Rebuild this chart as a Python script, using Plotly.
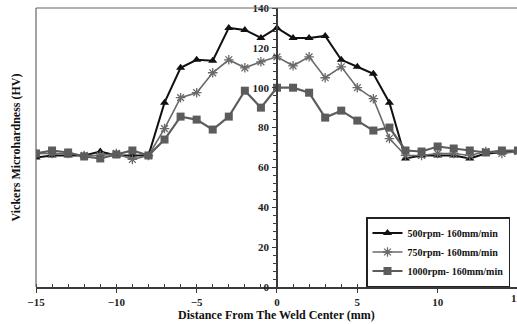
import plotly.graph_objects as go

distance = list(range(-15, 16))
hv_500 = [65, 66, 66, 66, 68, 66, 66, 66, 92.5, 110, 114, 113.5, 130, 129, 125, 130,
          125, 125, 126, 114, 110.5, 107, 92.5, 64.5, 66, 66, 66, 64.5, 67, 67.5, 68]
hv_750 = [67, 67, 67, 66, 66, 67, 64, 66, 79.5, 95, 97.5, 107.5, 114, 110, 113, 115.5,
          111, 115.5, 105, 110.5, 100, 94.5, 74.5, 66, 66, 67, 67, 66, 68, 67, 68]
hv_1000 = [67, 68.5, 67.5, 65.5, 64.5, 66.5, 68.5, 66, 74, 85.5, 84, 79, 85.5, 98.5, 90, 100,
           100, 97.5, 85, 88.5, 83.5, 78.5, 80, 68.5, 68, 70.5, 69.5, 68.5, 67.5, 68.5, 68.5]
names = ["500rpm- 160mm/min", "750rpm- 160mm/min", "1000rpm- 160mm/min"]
x_ticks = [-15, -10, -5, 0, 5, 10, 15]
y_ticks = [0, 20, 40, 60, 80, 100, 120, 140]

XR = [-15, 14.94]
YR = [0, 140]
FONT = "Liberation Serif"
AX = "#3a3a3a"

fig = go.Figure()
fig.add_trace(go.Scatter(x=distance, y=hv_500, name=names[0], mode="lines+markers",
                         line=dict(color="#111111", width=2),
                         marker=dict(symbol="triangle-up", size=8, color="#111111")))
fig.add_trace(go.Scatter(x=distance, y=hv_750, name=names[1], mode="lines+markers",
                         line=dict(color="#6a6a6a", width=1.6),
                         marker=dict(symbol="asterisk-open", size=8,
                                     line=dict(color="#9a9a9a", width=1.3))))
fig.add_trace(go.Scatter(x=distance, y=hv_1000, name=names[2], mode="lines+markers",
                         line=dict(color="#5c5c5c", width=2.2),
                         marker=dict(symbol="square", size=8, color="#5c5c5c")))

ypos = (0 - XR[0]) / (XR[1] - XR[0])
tickfont = dict(family=FONT, size=11, color="#222222", weight="bold")

fig.update_layout(
    width=517, height=324,
    margin=dict(l=36, r=0, t=8, b=37, autoexpand=False),
    paper_bgcolor="white", plot_bgcolor="white",
    showlegend=True,
    font=dict(family=FONT, size=11, color="#111111"),
    xaxis=dict(range=XR, tickvals=x_ticks[:-1], showgrid=False, zeroline=False,
               showline=True, linecolor=AX, linewidth=1.5, automargin=False,
               ticks="outside", ticklen=4, tickcolor=AX, tickwidth=1.2,
               minor=dict(dtick=1, ticks="inside", ticklen=3, tickcolor=AX, showgrid=False),
               tickfont=tickfont, ticklabelstandoff=0),
    yaxis=dict(range=YR, tickvals=y_ticks, showgrid=False, zeroline=False,
               anchor="free", position=ypos, automargin=False,
               showline=True, linecolor=AX, linewidth=1.5,
               ticks="outside", ticklen=4, tickcolor=AX, tickwidth=1.2,
               minor=dict(dtick=4, ticks="outside", ticklen=3, tickcolor=AX, showgrid=False),
               tickfont=tickfont, ticklabelstandoff=1),
    yaxis2=dict(range=YR, overlaying="y", anchor="free", position=ypos,
                showgrid=False, zeroline=False, showticklabels=False,
                tickvals=y_ticks, ticks="inside", ticklen=4, tickcolor=AX,
                minor=dict(dtick=4, ticks="inside", ticklen=3, tickcolor=AX, showgrid=False)),
    legend=dict(x=(510 - 36) / 481, y=(287 - 217) / 279, xanchor="right", yanchor="top",
                bordercolor="#222222", borderwidth=1.5, bgcolor="white",
                font=dict(family=FONT, size=10, color="#111111", weight="bold"),
                tracegroupgap=0, itemwidth=30),
    shapes=[
        dict(type="line", xref="paper", yref="paper", x0=0, x1=0, y0=0, y1=1,
             line=dict(color="#666666", width=1.2)),
        dict(type="line", xref="paper", yref="paper", x0=0, x1=1, y0=1, y1=1,
             line=dict(color="#666666", width=1.2)),
    ],
    annotations=[
        dict(text="<b>Vickers Microhardness (HV)</b>", textangle=-90, xref="paper", yref="paper",
             x=0, y=0.5, xshift=-21, showarrow=False, xanchor="center", yanchor="middle",
             font=dict(family=FONT, size=12, color="#111111")),
        dict(text="<b>Distance From The Weld Center (mm)</b>", xref="paper", yref="paper",
             x=ypos, y=0, yshift=-28, showarrow=False, xanchor="center", yanchor="middle",
             font=dict(family=FONT, size=12, color="#111111")),
        dict(text=str(x_ticks[-1]), xref="paper", yref="paper", x=1, y=0, yshift=-11,
             showarrow=False, xanchor="center", yanchor="middle", font=tickfont),
    ],
)
fig.write_html("out.html")
